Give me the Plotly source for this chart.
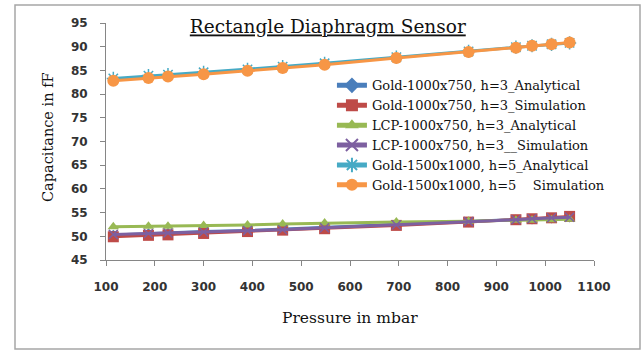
import plotly.graph_objects as go

pressure = [115, 187, 227, 300, 390, 462, 548, 695, 843, 940, 973, 1013, 1050]

gold_1000_analytical = [50.3, 50.6, 50.7, 51.0, 51.2, 51.5, 51.8, 52.4, 53.0, 53.5, 53.6, 53.8, 54.0]
gold_1000_simulation = [49.9, 50.2, 50.3, 50.6, 51.0, 51.3, 51.6, 52.3, 53.0, 53.5, 53.7, 53.9, 54.2]
lcp_1000_analytical = [52.0, 52.1, 52.1, 52.3, 52.4, 52.6, 52.8, 53.0, 53.2, 53.4, 53.4, 53.5, 53.6]
lcp_1000_simulation = [50.4, 50.6, 50.7, 50.9, 51.2, 51.4, 51.8, 52.4, 53.1, 53.5, 53.7, 53.9, 54.0]
gold_1500_analytical = [83.3, 83.9, 84.1, 84.6, 85.2, 85.8, 86.5, 87.8, 89.0, 89.9, 90.2, 90.5, 90.8]
gold_1500_simulation = [82.8, 83.4, 83.7, 84.2, 84.9, 85.5, 86.2, 87.6, 88.9, 89.8, 90.2, 90.5, 90.9]

names = [
    "Gold-1000x750, h=3_Analytical",
    "Gold-1000x750, h=3_Simulation",
    "LCP-1000x750, h=3_Analytical",
    "LCP-1000x750, h=3__Simulation",
    "Gold-1500x1000, h=5_Analytical",
    "Gold-1500x1000, h=5    Simulation",
]
series = [gold_1000_analytical, gold_1000_simulation, lcp_1000_analytical,
          lcp_1000_simulation, gold_1500_analytical, gold_1500_simulation]
colors = ["#4A7EBB", "#BE4B48", "#98B954", "#7D60A0", "#46AAC5", "#F79646"]
symbols = ["diamond", "square", "triangle-up", "x-thin-open", "asterisk-open", "circle"]
sizes = [8, 11, 10, 9, 11, 12]

fig = go.Figure()
for name, vals, c, s, sz in zip(names, series, colors, symbols, sizes):
    open_sym = s.endswith("open")
    fig.add_trace(go.Scatter(
        x=pressure, y=vals, name=name, mode="lines+markers",
        line=dict(color=c, width=3),
        marker=dict(symbol=s, size=sz, color=c,
                    line=dict(color=c, width=1.5 if open_sym else 0)),
    ))

serif = "DejaVu Serif"
sans = "DejaVu Sans"

fig.update_layout(
    width=644, height=351,
    margin=dict(l=106, r=50, t=23, b=91),
    paper_bgcolor="white", plot_bgcolor="white",
    showlegend=True,
    legend=dict(
        x=0.463, y=0.80, xanchor="left", yanchor="top",
        bgcolor="rgba(0,0,0,0)",
        font=dict(family=serif, size=13, color="#111"),
        itemsizing="constant",
        tracegroupgap=0,
    ),
    title=dict(
        text="<u>Rectangle Diaphragm Sensor</u>",
        x=0.509, xref="container", xanchor="center",
        y=1 - 27 / 351, yref="container", yanchor="middle",
        font=dict(family=serif, size=18.5, color="#111"),
    ),
    xaxis=dict(
        range=[100, 1100], tickmode="linear", tick0=100, dtick=100,
        showgrid=False, zeroline=False,
        showline=True, linecolor="#868686", linewidth=1,
        ticks="outside", ticklen=5, tickcolor="#868686",
        ticklabelstandoff=11,
        tickfont=dict(family=sans, size=12, color="#333", weight="bold"),
    ),
    yaxis=dict(
        range=[45, 95], tickmode="linear", tick0=45, dtick=5,
        showgrid=False, zeroline=False,
        showline=True, linecolor="#868686", linewidth=1,
        ticks="outside", ticklen=5, tickcolor="#868686",
        ticklabelstandoff=10,
        tickfont=dict(family=sans, size=12, color="#333", weight="bold"),
    ),
    annotations=[
        dict(text="Capacitance in fF", xref="paper", yref="paper",
             x=(48 - 106) / 488, y=(260 - 137) / 237, textangle=-90,
             showarrow=False, xanchor="center", yanchor="middle",
             font=dict(family=serif, size=14.5, color="#111")),
        dict(text="Pressure in mbar", xref="paper", yref="paper",
             x=0.5, y=(260 - 318) / 237,
             showarrow=False, xanchor="center", yanchor="middle",
             font=dict(family=serif, size=15.5, color="#111")),
    ],
    shapes=[
        dict(type="rect", xref="paper", yref="paper",
             x0=(15 - 106) / 488, x1=(640 - 106) / 488,
             y0=(260 - 349) / 237, y1=(260 - 5) / 237,
             line=dict(color="#A6A6A6", width=1.5), layer="below"),
    ],
)

fig.write_html("out.html")
